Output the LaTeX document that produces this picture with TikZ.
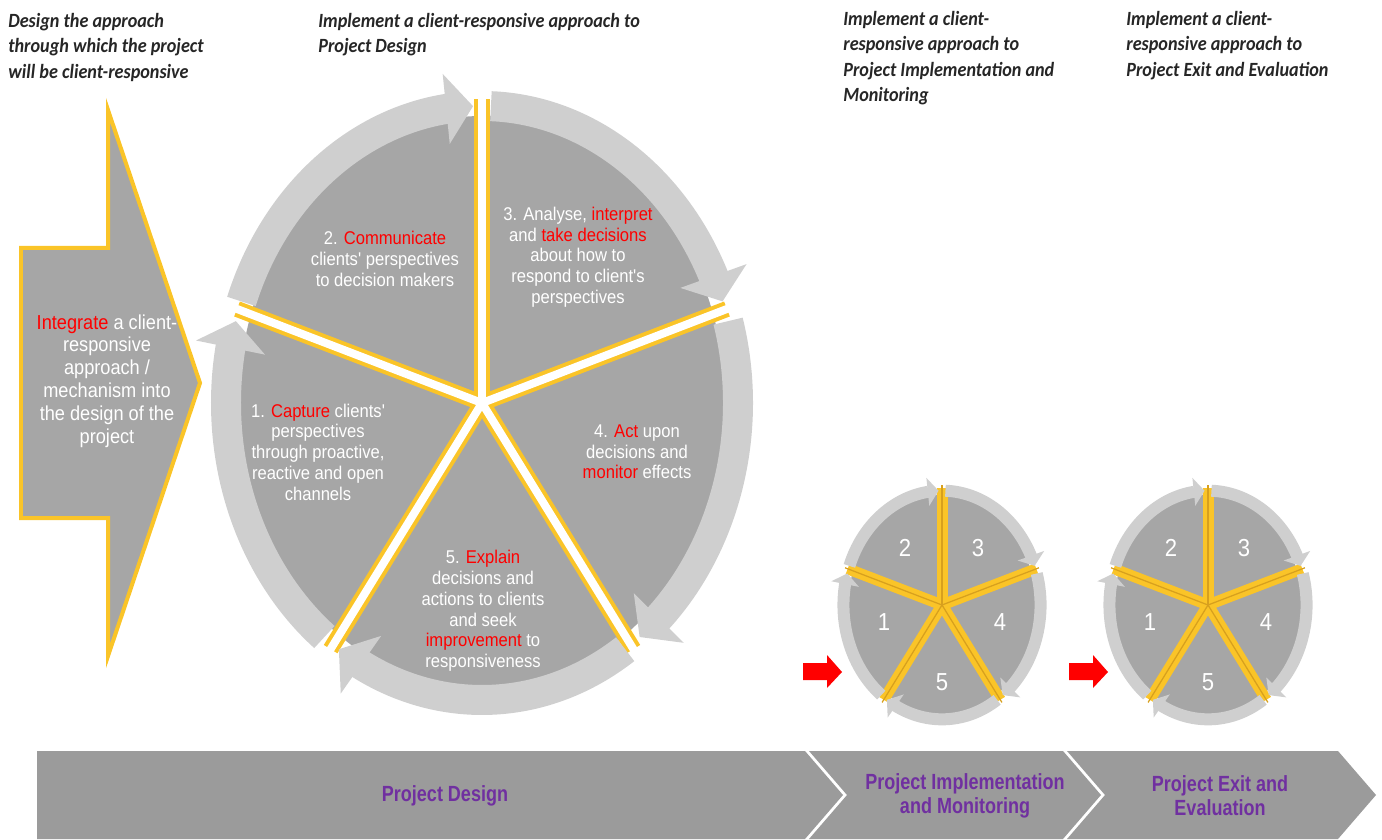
\documentclass[tikz,border=0pt]{standalone}
\usepackage{fontspec}
\setmainfont{Liberation Sans}
\newfontfamily\headfont[FakeStretch=0.9]{Carlito}
\newfontfamily\bodyfont[FakeStretch=0.9]{Liberation Sans}
\newfontfamily\barfont[FakeStretch=0.82]{Liberation Sans}
\usetikzlibrary{arrows.meta,bending,positioning}

\definecolor{ringgray}{RGB}{207,207,207}
\definecolor{discgray}{RGB}{166,166,166}
\definecolor{bargray}{RGB}{155,155,155}
\definecolor{gold}{RGB}{250,196,40}
\definecolor{darkgold}{RGB}{215,160,30}
\definecolor{hot}{RGB}{255,0,0}
\definecolor{plum}{RGB}{112,48,160}
\definecolor{ink}{RGB}{38,38,38}

\newcommand{\hot}[1]{\textcolor{hot}{#1}}

% #1,#2 centre, #3 scale, #4 ring width, #5 spoke width, #6 spoke gap, #7 gap colour
\newcommand{\wheel}[7]{%
  \begin{scope}[shift={(#1,#2)}]
    \pgfmathsetmacro\discx{243*#3}
    \pgfmathsetmacro\discy{287*#3}
    \pgfmathsetmacro\ringx{256*#3}
    \pgfmathsetmacro\ringy{297*#3}
    \fill[discgray] (0,0) ellipse[x radius=\discx, y radius=\discy];
    \foreach \a in {90,18,-54,-126,162}
      \draw[gold, line width=#5] (0,0) -- ({1.06*\discx*cos(\a)}, {1.06*\discy*sin(\a)});
    \foreach \a in {90,18,-54,-126,162}
      \draw[#7, line width=#6] (0,0) -- ({1.09*\discx*cos(\a)}, {1.09*\discy*sin(\a)});
    \foreach \a [evaluate=\a as \arcbeg using \a+70, evaluate=\a as \arcend using \a+2] in {90,18,-54,-126,162}
      \draw[ring, line width=#4] ({\ringx*cos(\arcbeg)}, {\ringy*sin(\arcbeg)})
        arc[start angle=\arcbeg, end angle=\arcend, x radius=\ringx, y radius=\ringy];
  \end{scope}}

\begin{document}
\begin{tikzpicture}[x=0.02cm, y=0.02cm]
  \tikzstyle{head}=[anchor=north west, align=left, inner sep=0pt, text=ink, font=\headfont\bfseries\itshape\fontsize{11.5}{14.5}\selectfont]
  \tikzstyle{body}=[align=center, inner sep=0pt, text=white, font=\bodyfont\fontsize{10.5}{11.8}\selectfont]
  \tikzstyle{lead}=[align=center, inner sep=0pt, text=white, font=\bodyfont\fontsize{11.5}{13}\selectfont]
  \tikzstyle{num}=[inner sep=0pt, text=white, font=\bodyfont\fontsize{14}{14}\selectfont]
  \tikzstyle{phase}=[align=center, inner sep=0pt, text=plum, font=\barfont\bfseries\fontsize{12.5}{13.6}\selectfont]
  \tikzstyle{ring}=[draw=ringgray, -{Triangle[length=0pt 0.9, width=0pt 2.3]}]
  \tikzstyle{bar}=[fill=bargray]
  \tikzstyle{cue}=[fill=hot]

  \useasboundingbox (0,0) rectangle (1382,839);

  \node[head] (hdesign) at (8,   826) {Design the approach\\through which the project\\will be client-responsive};
  \node[head] (hcycle)  at (318, 826) {Implement a client-responsive approach to\\Project Design};
  \node[head] (himpl)   at (843, 828) {Implement a client-\\responsive approach to\\Project Implementation and\\Monitoring};
  \node[head] (hexit)   at (1126,828) {Implement a client-\\responsive approach to\\Project Exit and Evaluation};

  \filldraw[fill=discgray, draw=gold, line width=0.08cm]
    (21,591) -- (108,591) -- (108,729) -- (200,456) -- (108,183) -- (108,321) -- (21,321) -- cycle;
  \node[lead] (integrate) at (107, 458) {\hot{Integrate} a client-\\responsive\\approach /\\mechanism into\\the design of the\\project};

  \wheel{482}{436}{1}{0.6cm}{0.32cm}{0.16cm}{white}
  \wheel{942}{234}{0.385}{0.24cm}{0.22cm}{0.025cm}{darkgold}
  \wheel{1208}{234}{0.385}{0.24cm}{0.22cm}{0.025cm}{darkgold}

  \node[body] (capture)     at (318, 387) {1. \hot{Capture} clients'\\perspectives\\through proactive,\\reactive and open\\channels};
  \node[body] (communicate) at (385, 580) {2. \hot{Communicate}\\clients' perspectives\\to decision makers};
  \node[body] (analyse)     at (578, 582) {3. Analyse, \hot{interpret}\\and \hot{take decisions}\\about how to\\respond to client's\\perspectives};
  \node[body] (act)         at (637, 387) {4. \hot{Act} upon\\decisions and\\\hot{monitor} effects};
  \node[body] (explain)     at (483, 228) {5. \hot{Explain}\\decisions and\\actions to clients\\and seek\\\hot{improvement} to\\responsiveness};

  \node[num] (a1) at (884,  217) {1};
  \node[num] (a2) at (905,  291) {2};
  \node[num] (a3) at (978,  291) {3};
  \node[num] (a4) at (1000, 217) {4};
  \node[num] (a5) at (942,  157) {5};
  \node[num] (b1) at (1150, 217) {1};
  \node[num] (b2) at (1171, 291) {2};
  \node[num] (b3) at (1244, 291) {3};
  \node[num] (b4) at (1266, 217) {4};
  \node[num] (b5) at (1208, 157) {5};

  \fill[cue] (803,176) -- (827,176) -- (827,184) -- (842,167) -- (827,151) -- (827,159) -- (803,159) -- cycle;
  \fill[cue] (1069,176) -- (1093,176) -- (1093,184) -- (1108,167) -- (1093,151) -- (1093,159) -- (1069,159) -- cycle;

  \fill[bar] (37,88) -- (805,88) -- (843,44) -- (805,0) -- (37,0) -- cycle;
  \fill[bar] (809,88) -- (1063,88) -- (1101,44) -- (1063,0) -- (809,0) -- (847,44) -- cycle;
  \fill[bar] (1067,88) -- (1338,88) -- (1376,44) -- (1338,0) -- (1067,0) -- (1105,44) -- cycle;

  \node[phase] (design) at (445,  43) {Project Design};
  \node[phase] (impl)   at (965,  43) {Project Implementation\\and Monitoring};
  \node[phase] (exit)   at (1220, 43) {Project Exit and\\Evaluation};
\end{tikzpicture}
\end{document}
